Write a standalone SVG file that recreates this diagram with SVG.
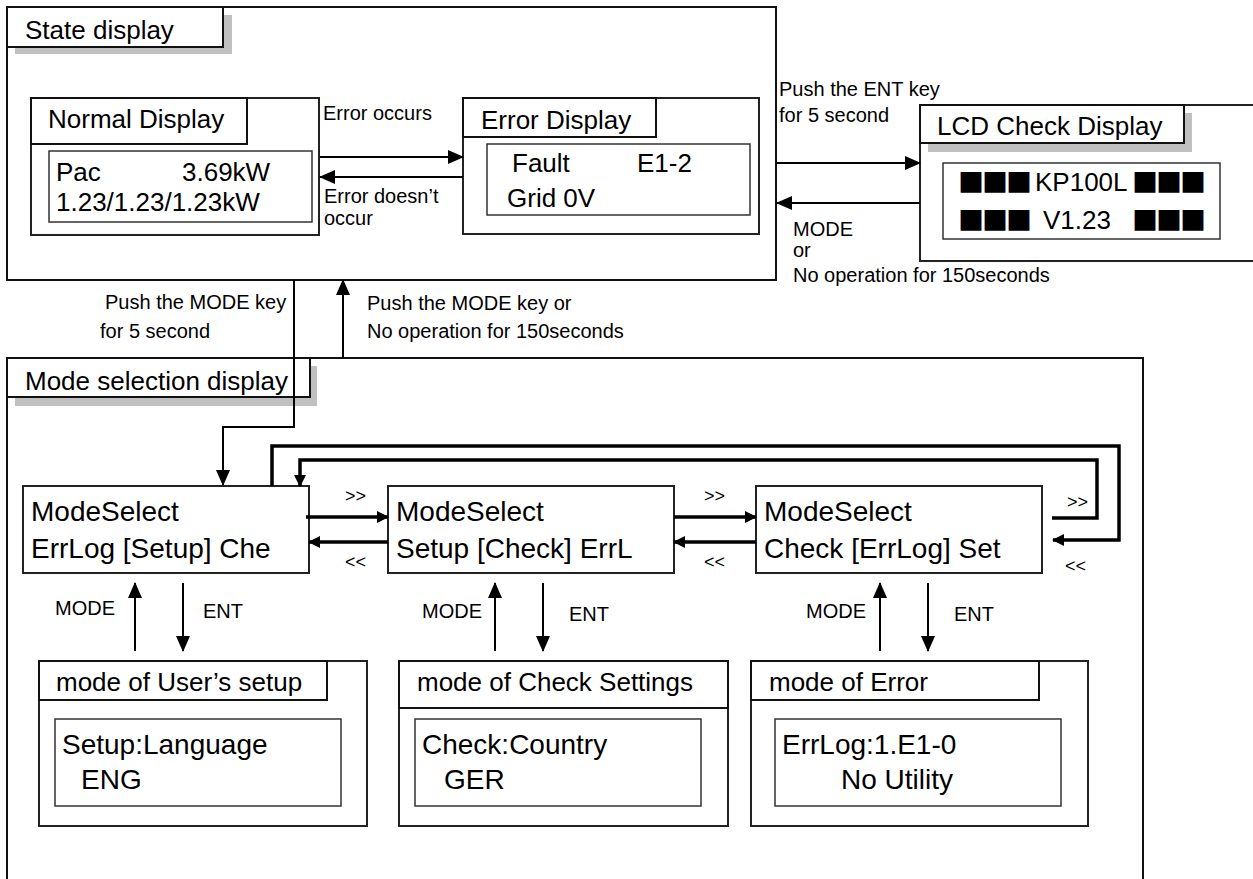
<svg xmlns="http://www.w3.org/2000/svg" width="1253" height="879" viewBox="0 0 1253 879">
<style>
text{font-family:"Liberation Sans",Arial,sans-serif;fill:#000}
.h{font-size:26px}
.m{font-size:28px}
.l{font-size:20px}
.s{font-size:18px}
.sq{font-family:"Noto Sans CJK JP","DejaVu Sans",sans-serif;font-size:26px;letter-spacing:-2px}
.frame{fill:none;stroke:#111;stroke-width:2}
.box{fill:#fff;stroke:#222;stroke-width:2}
.inner{fill:none;stroke:#333;stroke-width:1.5}
.tab{fill:#fff;stroke:#111;stroke-width:2}
.shadow{fill:#c0c0c0}
.c{fill:none;stroke:#000;stroke-width:2}
.ct{fill:none;stroke:#000;stroke-width:3.5}
</style>
<defs>
<marker id="ah" markerUnits="userSpaceOnUse" markerWidth="16" markerHeight="14" refX="15" refY="7" orient="auto">
<path d="M0,0 L16,7 L0,14 Z" fill="#000"/>
</marker>
<marker id="ahs" markerUnits="userSpaceOnUse" markerWidth="12" markerHeight="12" refX="11" refY="6" orient="auto">
<path d="M0,0 L12,6 L0,12 Z" fill="#000"/>
</marker>
</defs>
<rect width="1253" height="879" fill="#fff"/>

<g id="state-display">
<rect class="frame" x="7" y="7" width="769" height="273"/>
<rect class="shadow" x="15" y="15" width="217" height="39"/>
<rect class="tab" x="7" y="7" width="216" height="40"/>
<text class="h" x="25" y="39">State display</text>
</g>

<g id="normal-display">
<rect class="box" x="31" y="98" width="288" height="137"/>
<rect class="tab" x="31" y="98" width="216" height="46"/>
<text class="h" x="48" y="128">Normal Display</text>
<rect class="inner" x="49" y="151" width="263" height="71"/>
<text class="h" x="56" y="181">Pac</text>
<text class="h" x="182" y="181">3.69kW</text>
<text class="h" x="56" y="211">1.23/1.23/1.23kW</text>
</g>

<g id="error-display">
<rect class="box" x="463" y="98" width="296" height="136"/>
<rect class="tab" x="463" y="98" width="193" height="39"/>
<text class="h" x="481" y="129">Error Display</text>
<rect class="inner" x="487" y="144" width="263" height="71"/>
<text class="h" x="512" y="172">Fault</text>
<text class="h" x="637" y="172">E1-2</text>
<text class="h" x="507" y="207">Grid 0V</text>
</g>

<g id="lcd-check-display">
<rect class="box" x="920" y="105" width="345" height="156"/>
<rect class="shadow" x="928" y="113" width="264" height="39"/>
<rect class="tab" x="920" y="105" width="264" height="38"/>
<text class="h" x="937" y="135">LCD Check Display</text>
<rect class="inner" x="943" y="163" width="277" height="76"/>
<text class="sq" x="958" y="192">■■■</text>
<text class="h" x="1035" y="191">KP100L</text>
<text class="sq" x="1132" y="192">■■■</text>
<text class="sq" x="958" y="230">■■■</text>
<text class="h" x="1043" y="229">V1.23</text>
<text class="sq" x="1132" y="230">■■■</text>
</g>

<g id="mode-selection-display">
<path class="frame" d="M7,882 V358 H1143 V882"/>
<rect class="shadow" x="15" y="366" width="302" height="40"/>
<rect class="tab" x="7" y="358" width="303" height="39"/>
<text class="h" x="25" y="390">Mode selection display</text>
</g>

<g id="modeselect-setup">
<rect class="box" x="23" y="486" width="286" height="87"/>
<text class="m" x="31" y="521">ModeSelect</text>
<text class="m" x="31" y="558">ErrLog [Setup] Che</text>
</g>

<g id="modeselect-check">
<rect class="box" x="388" y="486" width="286" height="87"/>
<text class="m" x="396" y="521">ModeSelect</text>
<text class="m" x="396" y="558">Setup [Check] ErrL</text>
</g>

<g id="modeselect-errlog">
<rect class="box" x="756" y="486" width="286" height="87"/>
<text class="m" x="764" y="521">ModeSelect</text>
<text class="m" x="764" y="558">Check [ErrLog] Set</text>
</g>

<g id="mode-user-setup">
<rect class="box" x="39" y="661" width="328" height="165"/>
<rect class="tab" x="39" y="661" width="288" height="39"/>
<text class="h" x="56" y="691">mode of User’s setup</text>
<rect class="inner" x="55" y="719" width="286" height="87"/>
<text class="m" x="62" y="754">Setup:Language</text>
<text class="m" x="81" y="789">ENG</text>
</g>

<g id="mode-check-settings">
<rect class="box" x="399" y="661" width="329" height="165"/>
<rect class="tab" x="399" y="661" width="329" height="47"/>
<text class="h" x="417" y="691">mode of Check Settings</text>
<rect class="inner" x="415" y="719" width="286" height="87"/>
<text class="m" x="422" y="754">Check:Country</text>
<text class="m" x="444" y="789">GER</text>
</g>

<g id="mode-error">
<rect class="box" x="751" y="661" width="337" height="165"/>
<rect class="tab" x="751" y="661" width="288" height="39"/>
<text class="h" x="769" y="691">mode of Error</text>
<rect class="inner" x="775" y="719" width="286" height="87"/>
<text class="m" x="782" y="754">ErrLog:1.E1-0</text>
<text class="m" x="841" y="789">No Utility</text>
</g>

<g id="connectors">
<path class="c" d="M320,157 H463" marker-end="url(#ah)"/>
<path class="c" d="M463,177 H320" marker-end="url(#ah)"/>
<path class="c" d="M776,163 H920" marker-end="url(#ah)"/>
<path class="c" d="M920,203 H777" marker-end="url(#ah)"/>
<path class="c" d="M294,280 V427 H223 V485" marker-end="url(#ah)"/>
<path class="c" d="M343,358 V280" marker-end="url(#ah)"/>
<path class="ct" d="M306,517 H388" marker-end="url(#ahs)"/>
<path class="ct" d="M388,542 H309" marker-end="url(#ahs)"/>
<path class="ct" d="M674,517 H756" marker-end="url(#ahs)"/>
<path class="ct" d="M756,542 H674" marker-end="url(#ahs)"/>
<path class="ct" d="M1052,518 H1097 V460 H300 V486" marker-end="url(#ahs)"/>
<path class="ct" d="M272,486 V446 H1119 V540 H1053" marker-end="url(#ahs)"/>
<path class="c" d="M135,651 V583" marker-end="url(#ah)"/>
<path class="c" d="M183,583 V651" marker-end="url(#ah)"/>
<path class="c" d="M495,651 V583" marker-end="url(#ah)"/>
<path class="c" d="M543,583 V651" marker-end="url(#ah)"/>
<path class="c" d="M880,651 V583" marker-end="url(#ah)"/>
<path class="c" d="M928,583 V651" marker-end="url(#ah)"/>
</g>

<g id="labels">
<text class="l" x="323" y="120">Error occurs</text>
<text class="l" x="324" y="203" font-size="19">Error doesn’t</text>
<text class="l" x="324" y="225" font-size="19">occur</text>
<text class="l" x="779" y="96">Push the ENT key</text>
<text class="l" x="779" y="122">for 5 second</text>
<text class="l" x="793" y="236">MODE</text>
<text class="l" x="793" y="257">or</text>
<text class="l" x="793" y="282">No operation for 150seconds</text>
<text class="l" x="105" y="309">Push the MODE key</text>
<text class="l" x="100" y="338">for 5 second</text>
<text class="l" x="367" y="310">Push the MODE key or</text>
<text class="l" x="367" y="338">No operation for 150seconds</text>
<text class="s" x="345" y="502">&gt;&gt;</text>
<text class="s" x="345" y="568">&lt;&lt;</text>
<text class="s" x="704" y="502">&gt;&gt;</text>
<text class="s" x="704" y="568">&lt;&lt;</text>
<text class="s" x="1067" y="508">&gt;&gt;</text>
<text class="s" x="1065" y="572">&lt;&lt;</text>
<text class="l" x="55" y="615">MODE</text>
<text class="l" x="203" y="618">ENT</text>
<text class="l" x="422" y="618">MODE</text>
<text class="l" x="569" y="621">ENT</text>
<text class="l" x="806" y="618">MODE</text>
<text class="l" x="954" y="621">ENT</text>
</g>
</svg>
